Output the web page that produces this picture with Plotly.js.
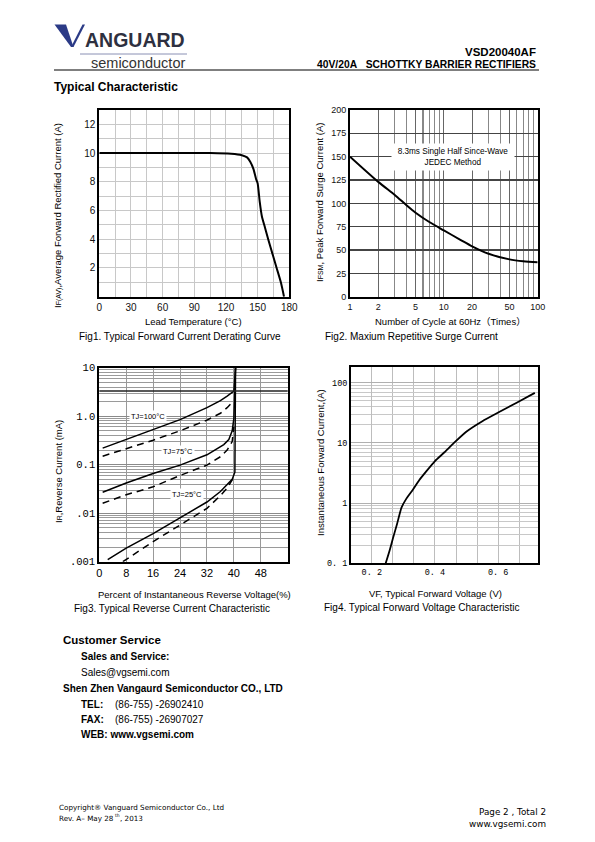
<!DOCTYPE html>
<html><head><meta charset="utf-8">
<script src="https://cdn.plot.ly/plotly-3.0.1.min.js"></script>
<style>html,body{margin:0;padding:0;background:#fff}#chart{width:595px;height:842px}</style>
</head><body><div id="chart"></div>
<script>
// ---------- Fig1: forward current derating ----------
const fig1Temp    = [0, 105, 125, 135, 140, 143, 146, 148.5, 150, 152, 154, 157, 160, 164, 168, 172, 175];
const fig1Current = [10, 10, 9.95, 9.85, 9.7, 9.4, 8.9, 8.2, 7.9, 6.6, 5.6, 4.8, 4.0, 3.0, 2.0, 1.0, 0];
const fig1XTicks  = [0, 30, 60, 90, 120, 150, 180];
const fig1YTicks  = [2, 4, 6, 8, 10, 12];

// ---------- Fig2: surge current ----------
const fig2Cycles = [1, 2, 3, 4, 5, 7, 10, 15, 20, 30, 50, 70, 100];
const fig2Surge  = [150, 123, 109, 98, 90, 80, 71, 61, 54, 46, 40, 38, 37];
const fig2XTicks = [1, 2, 5, 10, 20, 50, 100];
const fig2YTicks = [0, 25, 50, 75, 100, 125, 150, 175, 200];

// ---------- Fig3: reverse current ----------
const fig3Solid100X = [1, 8, 16, 24, 32, 36, 38, 40, 40.5];
const fig3Solid100Y = [0.22, 0.33, 0.53, 0.85, 1.5, 2.1, 2.6, 3.3, 10];
const fig3Dash100X  = [1, 8, 16, 24, 32, 36, 38, 40];
const fig3Dash100Y  = [0.15, 0.21, 0.32, 0.5, 0.83, 1.15, 1.5, 2.1];
const fig3Solid75X  = [1, 8, 16, 24, 32, 35, 37, 38.5, 39.5, 40, 40.5];
const fig3Solid75Y  = [0.027, 0.042, 0.066, 0.098, 0.16, 0.21, 0.26, 0.33, 0.5, 0.9, 10];
const fig3Dash75X   = [1, 8, 16, 24, 32, 36, 38, 39.5, 40];
const fig3Dash75Y   = [0.016, 0.024, 0.035, 0.06, 0.098, 0.146, 0.2, 0.3, 0.6];
const fig3Solid25X  = [2.5, 8, 16, 24, 32, 36, 38, 39.5, 40.3, 40.5];
const fig3Solid25Y  = [0.0011, 0.0019, 0.0038, 0.0082, 0.017, 0.028, 0.038, 0.05, 0.07, 10];
const fig3Dash25X   = [7, 16, 24, 32, 36, 38, 40];
const fig3Dash25Y   = [0.001, 0.0026, 0.0057, 0.0126, 0.023, 0.033, 0.055];
const fig3XTicks    = [0, 8, 16, 24, 32, 40, 48];
const fig3YTicks    = [0.001, 0.01, 0.1, 1, 10];
const fig3YLabels   = ['.001', '.01', '0.1', '1.0', '10'];

// ---------- Fig4: forward voltage ----------
const fig4Vf = [0.244, 0.256, 0.267, 0.28, 0.294, 0.31, 0.331, 0.35, 0.373, 0.40, 0.43, 0.46, 0.50, 0.55, 0.60, 0.66, 0.716];
const fig4If = [0.1, 0.16, 0.26, 0.45, 0.84, 1.2, 1.7, 2.4, 3.4, 5.0, 7.0, 10, 15.5, 23, 32, 47, 68];
const fig4XTicks  = [0.2, 0.4, 0.6];
const fig4XLabels = ['0. 2', '0. 4', '0. 6'];
const fig4YTicks  = [0.1, 1, 10, 100];
const fig4YLabels = ['0. 1', '1', '10', '100'];

// ---------- helpers ----------
const W = 595, H = 842;
const X = p => p / W;
const Y = p => 1 - p / H;
const SANS = 'Liberation Sans, Arial, Noto Sans CJK SC, sans-serif';
const NARROW = 'Liberation Sans Narrow, Liberation Sans, Arial, sans-serif';
const DEJ = 'DejaVu Sans, sans-serif';
const MONO = 'Liberation Mono, monospace';
const small = s => '<span style="font-size:7px">' + s + '</span>';

function ax(extra) {
  return Object.assign({showline: true, mirror: true, linecolor: '#000', linewidth: 2,
    zeroline: false, ticks: '', fixedrange: true, showgrid: true, tickmode: 'array'}, extra);
}
function txt(text, x, y, o) {
  o = o || {};
  return Object.assign({text: text, xref: 'paper', yref: 'paper', x: X(x), y: Y(y),
    xanchor: o.xa || 'left', yanchor: 'middle', showarrow: false,
    font: {family: o.family || SANS, size: o.size || 10, color: o.color || '#000'},
    textangle: o.angle || 0}, o.extra || {});
}
const logMinor = color => ({dtick: 'D1', showgrid: true, gridcolor: color, ticks: ''});

const traces = [
  {x: fig1Temp, y: fig1Current, xaxis: 'x', yaxis: 'y', mode: 'lines', line: {color: '#000', width: 2, shape: 'spline', smoothing: 0.6}},
  {x: fig2Cycles, y: fig2Surge, xaxis: 'x2', yaxis: 'y2', mode: 'lines', line: {color: '#000', width: 2, shape: 'spline', smoothing: 0.8}},
  {x: fig3Solid100X, y: fig3Solid100Y, xaxis: 'x3', yaxis: 'y3', mode: 'lines', line: {color: '#000', width: 1.5}},
  {x: fig3Dash100X, y: fig3Dash100Y, xaxis: 'x3', yaxis: 'y3', mode: 'lines', line: {color: '#000', width: 1.5, dash: '7px,5px'}},
  {x: fig3Solid75X, y: fig3Solid75Y, xaxis: 'x3', yaxis: 'y3', mode: 'lines', line: {color: '#000', width: 1.5}},
  {x: fig3Dash75X, y: fig3Dash75Y, xaxis: 'x3', yaxis: 'y3', mode: 'lines', line: {color: '#000', width: 1.5, dash: '7px,5px'}},
  {x: fig3Solid25X, y: fig3Solid25Y, xaxis: 'x3', yaxis: 'y3', mode: 'lines', line: {color: '#000', width: 1.5}},
  {x: fig3Dash25X, y: fig3Dash25Y, xaxis: 'x3', yaxis: 'y3', mode: 'lines', line: {color: '#000', width: 1.5, dash: '7px,5px'}},
  {x: fig4Vf, y: fig4If, xaxis: 'x4', yaxis: 'y4', mode: 'lines', line: {color: '#000', width: 1.8, shape: 'spline', smoothing: 0.5}}
];

const tf1 = {family: NARROW, size: 10, color: '#111'};
const tf2 = {family: NARROW, size: 9, color: '#111'};
const layout = {
  width: W, height: H, margin: {l: 0, r: 0, t: 0, b: 0},
  paper_bgcolor: '#fff', plot_bgcolor: '#fff', showlegend: false, hovermode: false,
  xaxis: ax({domain: [X(99.3), X(289.3)], anchor: 'y', range: [0, 180],
    tickvals: fig1XTicks, ticktext: fig1XTicks.map(String), gridcolor: '#c8c8c8', tickfont: tf1,
    minor: {tickmode: 'linear', tick0: 0, dtick: 15, showgrid: true, gridcolor: '#c8c8c8', ticks: ''}}),
  yaxis: ax({domain: [Y(296.7), Y(110)], anchor: 'x', range: [0, 13],
    tickvals: fig1YTicks, ticktext: fig1YTicks.map(String), gridcolor: '#c8c8c8', tickfont: tf1,
    minor: {tickmode: 'linear', tick0: 0, dtick: 1, showgrid: true, gridcolor: '#c8c8c8', ticks: ''}}),
  xaxis2: ax({domain: [X(350), X(537.7)], anchor: 'y2', type: 'log', range: [0, 2],
    tickvals: fig2XTicks, ticktext: fig2XTicks.map(String),
    gridcolor: '#666', gridwidth: 1.2, tickfont: tf2,
    minor: {dtick: 'D1', showgrid: true, gridcolor: '#888', gridwidth: 1.2, ticks: ''}}),
  yaxis2: ax({domain: [Y(296.7), Y(110)], anchor: 'x2', range: [0, 200],
    tickvals: fig2YTicks, ticktext: fig2YTicks.map(String), gridcolor: '#444', gridwidth: 1.2, tickfont: tf2}),
  xaxis3: ax({domain: [X(99.3), X(287.7)], anchor: 'y3', range: [0, 56],
    tickvals: fig3XTicks, ticktext: fig3XTicks.map(String), gridcolor: '#999',
    tickfont: {family: SANS, size: 11, color: '#000'}}),
  yaxis3: ax({domain: [Y(561.7), Y(367.7)], anchor: 'x3', type: 'log', range: [-3, 1],
    tickvals: fig3YTicks, ticktext: fig3YLabels, gridcolor: '#8a8a8a',
    tickfont: {family: MONO, size: 10.5, color: '#000'}, minor: logMinor('#9a9a9a')}),
  xaxis4: ax({domain: [X(350.7), X(538.3)], anchor: 'y4', range: [0.1333, 0.727],
    tickvals: fig4XTicks, ticktext: fig4XLabels, gridcolor: '#bdbdbd', linewidth: 1.6,
    tickfont: {family: MONO, size: 8.5, color: '#000'},
    minor: {tickmode: 'linear', tick0: 0.2, dtick: 0.2 / 3, showgrid: true, gridcolor: '#bdbdbd', ticks: ''}}),
  yaxis4: ax({domain: [Y(563.3), Y(366.7)], anchor: 'x4', type: 'log', range: [-1, 2.267],
    tickvals: fig4YTicks, ticktext: fig4YLabels, gridcolor: '#b0b0b0', linewidth: 1.6,
    tickfont: {family: MONO, size: 8.5, color: '#000'}, minor: logMinor('#c8c8c8')}),
  shapes: [
    // logo V
    {type: 'path', xref: 'paper', yref: 'paper', fillcolor: '#2b3a86', line: {width: 0},
     path: `M${X(54.5)},${Y(24.5)} L${X(66)},${Y(24.5)} L${X(73.5)},${Y(47)} L${X(71)},${Y(47)} Z`},
    {type: 'path', xref: 'paper', yref: 'paper', fillcolor: '#2b3a86', line: {width: 0},
     path: `M${X(71)},${Y(47)} L${X(73.5)},${Y(47)} L${X(85)},${Y(24.5)} L${X(82.5)},${Y(24.5)} Z`},
    {type: 'line', xref: 'paper', yref: 'paper', x0: X(80), x1: X(187), y0: Y(54), y1: Y(54), line: {color: '#8a90b4', width: 1}},
    {type: 'line', xref: 'paper', yref: 'paper', x0: X(54), x1: X(539), y0: Y(70), y1: Y(70), line: {color: '#000', width: 1.2}},
    // darker reference grid line in Fig3
    {type: 'line', xref: 'paper', yref: 'paper', x0: X(99.3), x1: X(287.7), y0: Y(391), y1: Y(391), line: {color: '#222', width: 1.3}}
  ],
  annotations: [
    txt('<b>VSD20040AF</b>', 538, 52, {xa: 'right', size: 11.5}),
    txt('<b>40V/20A\u00a0\u00a0\u00a0SCHOTTKY BARRIER RECTIFIERS</b>', 538, 64.5, {xa: 'right', size: 10.3}),
    txt('<b>ANGUARD</b>', 83, 40.5, {size: 19.5, color: '#2e3040'}),
    txt('semiconductor', 89, 63, {size: 14.5, color: '#333'}),
    txt('<b>Typical Characteristic</b>', 52, 87, {size: 12}),

    txt('I' + small('F(AV)') + ',Average Forward Rectified Current (A)', 58, 216, {xa: 'center', size: 9.5, angle: -90}),
    txt('Lead Temperature (°C)', 193, 321, {xa: 'center', size: 9.5}),
    txt('Fig1. Typical Forward Current Derating Curve', 180, 336, {xa: 'center', size: 10}),

    txt('I' + small('FSM') + ', Peak Forward Surge Current (A)', 319, 203, {xa: 'center', size: 9.5, angle: -90}),
    txt('Number of Cycle at 60Hz（Times）', 450, 321, {xa: 'center', size: 9.5}),
    txt('Fig2. Maxium Repetitive Surge Current', 323, 336.5, {size: 10}),
    txt('8.3ms Single Half Since-Wave<br>JEDEC Method', 453, 157, {xa: 'center', size: 8.2, family: NARROW,
      extra: {bgcolor: '#fff', width: 122, height: 26, borderpad: 0}}),

    txt('I' + small('R') + ',Reverse Current (mA)', 58, 472, {xa: 'center', size: 9.5, angle: -90}),
    txt('Percent of Instantaneous Reverse Voltage(%)', 194, 594, {xa: 'center', size: 9.5}),
    txt('Fig3. Typical Reverse Current Characteristic', 71.5, 608, {size: 10}),
    {text: 'TJ=100°C', xref: 'x3', yref: 'y3', x: 14.5, y: Math.log10(1.0), showarrow: false, bgcolor: '#fff',
     font: {family: SANS, size: 7.5, color: '#000'}, borderpad: 1},
    {text: 'TJ=75°C', xref: 'x3', yref: 'y3', x: 23.5, y: Math.log10(0.19), showarrow: false, bgcolor: '#fff',
     font: {family: SANS, size: 7.5, color: '#000'}, borderpad: 1},
    {text: 'TJ=25°C', xref: 'x3', yref: 'y3', x: 26, y: Math.log10(0.0245), showarrow: false, bgcolor: '#fff',
     font: {family: SANS, size: 7.5, color: '#000'}, borderpad: 1},

    txt('Instantaneous Forward Current,(A)', 320, 463, {xa: 'center', size: 9.5, angle: -90}),
    txt('VF, Typical Forward Voltage (V)', 436, 593, {xa: 'center', size: 9.5}),
    txt('Fig4. Typical Forward Voltage Characteristic', 322, 607, {size: 10}),

    txt('<b>Customer Service</b>', 60.5, 640, {size: 11.5}),
    txt('<b>Sales and Service:</b>', 79, 656.5, {size: 10}),
    txt('Sales@vgsemi.com', 79, 672.5, {size: 10}),
    txt('<b>Shen Zhen Vangaurd Semiconductor CO., LTD</b>', 60.5, 688.5, {size: 10}),
    txt('<b>TEL:</b>', 79, 704, {size: 10}),
    txt('(86-755) -26902410', 112.5, 704, {size: 10}),
    txt('<b>FAX:</b>', 79, 719.5, {size: 10}),
    txt('(86-755) -26907027', 112.5, 719.5, {size: 10}),
    txt('<b>WEB: www.vgsemi.com</b>', 79, 734.5, {size: 10}),

    txt('Copyright® Vanguard Semiconductor Co., Ltd', 57, 807.5, {size: 7.2, family: DEJ}),
    txt('Rev. A– May 28', 57, 818, {size: 7.2, family: DEJ}),
    txt('th', 113.3, 815.5, {size: 4.5, family: DEJ}),
    txt(', 2013', 117.6, 818, {size: 7.2, family: DEJ}),
    txt('Page 2 , Total 2', 548, 812, {xa: 'right', size: 8.8, family: DEJ}),
    txt('www.vgsemi.com', 548, 824, {xa: 'right', size: 8.8, family: DEJ})
  ]
};

Plotly.newPlot('chart', traces, layout, {staticPlot: true, displayModeBar: false});
</script>
</body></html>
